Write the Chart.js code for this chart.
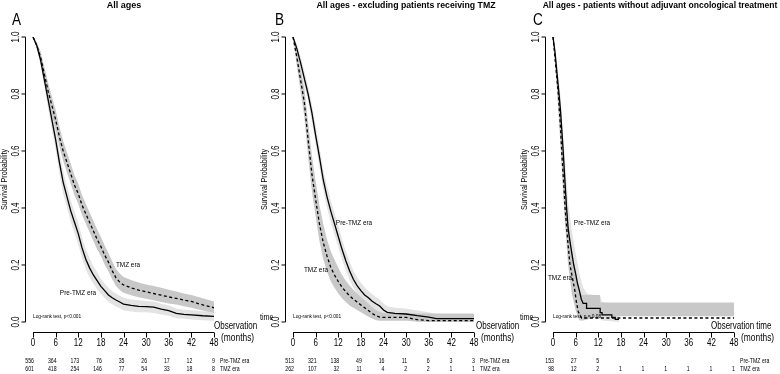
<!DOCTYPE html>
<html>
<head>
<meta charset="utf-8">
<script src="https://cdn.jsdelivr.net/npm/chart.js@4.4.1/dist/chart.umd.min.js"></script>
<style>
  body { margin: 0; background: #fff; width: 780px; height: 374px; overflow: hidden; position: relative; }
  .panel { position: absolute; top: 0; width: 260px; height: 374px; }
</style>
</head>
<body>
<div class="panel" style="left:0"><canvas id="chartA" width="260" height="374"></canvas></div>
<div class="panel" style="left:260px"><canvas id="chartB" width="260" height="374"></canvas></div>
<div class="panel" style="left:520px"><canvas id="chartC" width="260" height="374"></canvas></div>
<script>
// axis ticks
const months = [0, 6, 12, 18, 24, 30, 36, 42, 48];
const yTicks = [0, 0.2, 0.4, 0.6, 0.8, 1.0];
const yTickLabels = ['0.0', '0.2', '0.4', '0.6', '0.8', '1.0'];

// ---- A: all ages
const aTime = [0,1,2,3,4,5,6,7,8,9,10,11,12,13,14,15,16,17,18,19,20,21,22,23,24,26,28,30,32,34,36,38,40,42,45,48];
const aPreSurv  = [1.0,0.97,0.92,0.85,0.78,0.71,0.64,0.56,0.49,0.44,0.39,0.35,0.31,0.26,0.22,0.19,0.165,0.145,0.125,0.11,0.095,0.085,0.077,0.07,0.063,0.058,0.055,0.054,0.052,0.045,0.04,0.03,0.027,0.025,0.022,0.02];
const aPreUpper = [1.0,0.98,0.94,0.875,0.81,0.745,0.675,0.6,0.53,0.478,0.428,0.388,0.348,0.296,0.255,0.224,0.196,0.175,0.152,0.135,0.12,0.108,0.1,0.092,0.085,0.079,0.076,0.074,0.072,0.064,0.058,0.047,0.043,0.041,0.038,0.036];
const aPreLower = [1.0,0.96,0.9,0.825,0.75,0.675,0.605,0.52,0.45,0.402,0.352,0.312,0.272,0.224,0.185,0.156,0.134,0.115,0.098,0.085,0.07,0.062,0.054,0.048,0.041,0.037,0.034,0.034,0.032,0.026,0.022,0.013,0.011,0.009,0.006,0.004];
const aTmzSurv  = [1.0,0.97,0.93,0.87,0.81,0.76,0.71,0.65,0.60,0.56,0.52,0.48,0.45,0.41,0.38,0.35,0.32,0.29,0.265,0.235,0.21,0.18,0.155,0.14,0.13,0.12,0.112,0.106,0.10,0.094,0.088,0.083,0.077,0.072,0.06,0.05];
const aTmzUpper = [1.0,0.98,0.95,0.895,0.84,0.79,0.745,0.685,0.635,0.595,0.555,0.515,0.485,0.445,0.415,0.385,0.355,0.325,0.298,0.268,0.242,0.212,0.186,0.17,0.158,0.147,0.139,0.132,0.126,0.12,0.113,0.107,0.1,0.095,0.083,0.072];
const aTmzLower = [1.0,0.96,0.91,0.845,0.78,0.73,0.675,0.615,0.565,0.525,0.485,0.445,0.415,0.375,0.345,0.315,0.285,0.255,0.232,0.202,0.178,0.15,0.126,0.112,0.103,0.094,0.087,0.082,0.076,0.07,0.065,0.061,0.055,0.05,0.04,0.032];
const aPreRisk = [556, 364, 173, 76, 35, 26, 17, 12, 9];
const aTmzRisk = [601, 418, 254, 146, 77, 54, 33, 18, 8];

// ---- B: excluding patients receiving TMZ
const bTime = [0,1,2,3,4,5,6,7,8,9,10,11,12,13,14,15,16,17,18,19,20,21,22,23,24,25,27,30,33,36,38,42,48];
const bPreSurv  = [1.0,0.96,0.91,0.855,0.80,0.735,0.655,0.58,0.50,0.44,0.39,0.345,0.30,0.255,0.215,0.18,0.15,0.128,0.11,0.095,0.085,0.073,0.064,0.056,0.042,0.034,0.03,0.028,0.022,0.017,0.012,0.012,0.012];
const bPreUpper = [1.0,0.975,0.93,0.88,0.825,0.765,0.69,0.615,0.535,0.478,0.428,0.383,0.338,0.29,0.248,0.212,0.18,0.158,0.138,0.122,0.11,0.097,0.088,0.079,0.064,0.055,0.05,0.047,0.04,0.034,0.028,0.028,0.028];
const bPreLower = [1.0,0.945,0.89,0.83,0.775,0.705,0.62,0.545,0.465,0.402,0.352,0.307,0.262,0.22,0.182,0.148,0.12,0.098,0.082,0.068,0.06,0.049,0.04,0.033,0.022,0.016,0.013,0.012,0.008,0.005,0.003,0.003,0.003];
const bTmzSurv  = [1.0,0.93,0.85,0.77,0.64,0.52,0.43,0.345,0.28,0.232,0.192,0.165,0.142,0.122,0.106,0.092,0.08,0.07,0.06,0.05,0.04,0.03,0.022,0.017,0.016,0.016,0.016,0.016,0.008,0.005,0.005,0.005,0.005];
const bTmzUpper = [1.0,0.955,0.89,0.82,0.70,0.585,0.495,0.41,0.345,0.29,0.248,0.218,0.19,0.165,0.145,0.128,0.113,0.1,0.088,0.076,0.064,0.052,0.042,0.035,0.032,0.03,0.03,0.03,0.03,0.03,0.03,0.03,0.03];
const bTmzLower = [1.0,0.90,0.81,0.72,0.58,0.46,0.37,0.285,0.222,0.178,0.143,0.12,0.1,0.083,0.07,0.058,0.05,0.042,0.034,0.026,0.018,0.012,0.006,0.004,0.004,0.004,0.004,0.004,0.001,0,0,0,0];
const bPreRisk = [513, 321, 138, 49, 16, 11, 6, 3, 3];
const bTmzRisk = [262, 107, 32, 11, 4, 2, 2, 1, 1];

// ---- C: without adjuvant oncological treatment (repeated times = vertical steps)
const cPreTime = [0,0.5,1,1.6,2,2.7,3,3.6,4,4.3,5,5.5,6,6.5,7,7.5,8,8.9,8.9,12.5,12.5,13,13,15.6,15.6,16.5,16.5,17.5];
const cPreSurv = [1.0,0.95,0.88,0.8,0.74,0.6,0.53,0.4,0.33,0.3,0.24,0.2,0.17,0.135,0.11,0.08,0.065,0.065,0.048,0.048,0.033,0.033,0.025,0.025,0.016,0.016,0.009,0.009];
const cTmzTime = [0,0.5,1,1.4,2,2.3,3,3.2,4,4.5,5,5.8,6.2,6.7,7.6,48];
const cTmzSurv = [1.0,0.93,0.86,0.8,0.68,0.6,0.45,0.4,0.27,0.2,0.165,0.11,0.07,0.036,0.014,0.014];
const cPreBandTime = [0,1,2,3,4,5,6,7,8,9,12.5,13,17.5];
const cPreUpper = [1.0,0.92,0.79,0.6,0.42,0.32,0.24,0.17,0.12,0.1,0.09,0.07,0.05];
const cPreLower = [1.0,0.84,0.68,0.47,0.27,0.18,0.11,0.06,0.03,0.02,0.01,0.005,0.0];
const cTmzBandTime = [0,1,2,3,4,5,6,7,8,12.5,12.5,48];
const cTmzUpper = [1.0,0.9,0.74,0.52,0.35,0.25,0.17,0.1,0.095,0.095,0.068,0.068];
const cTmzLower = [1.0,0.82,0.62,0.38,0.2,0.1,0.04,0.005,0.005,0.02,0.02,0.02];
const cPreRisk = [153, 27, 5, null, null, null, null, null, null];
const cTmzRisk = [98, 12, 2, 1, 1, 1, 1, 1, 1];

const FONT = '"Liberation Sans", Arial, sans-serif';
const NARROW = 0.8; // the figure uses a condensed Helvetica

function pts(t, v) {
  return t.map((tt, i) => ({ x: tt, y: v[i] }));
}

// draw text squeezed horizontally, optionally rotated
function txt(ctx, s, x, y, sx, rot) {
  ctx.save();
  ctx.translate(x, y);
  if (rot) ctx.rotate(rot);
  ctx.scale(sx, 1);
  ctx.fillText(s, 0, 0);
  ctx.restore();
}

const kmDecor = {
  id: 'kmDecor',
  afterDraw(chart, args, o) {
    const { ctx, chartArea, scales: { x, y } } = chart;
    ctx.save();
    ctx.fillStyle = '#000';
    ctx.strokeStyle = '#000';
    ctx.lineWidth = 1;

    // title + panel letter
    ctx.font = 'bold 9px ' + FONT;
    ctx.textAlign = 'center';
    ctx.textBaseline = 'middle';
    txt(ctx, o.title, o.titleX, 6, o.titleScale);
    ctx.font = '16px ' + FONT;
    ctx.textAlign = 'left';
    ctx.textBaseline = 'alphabetic';
    txt(ctx, o.letter, o.letterX, 25, 0.85);

    // y axis (R style, detached from the plot)
    const yl = Math.round(chartArea.left) - 0.5;
    ctx.beginPath();
    ctx.moveTo(yl, y.getPixelForValue(0));
    ctx.lineTo(yl, y.getPixelForValue(1));
    yTicks.forEach(v => {
      const py = y.getPixelForValue(v);
      ctx.moveTo(yl - 4, py);
      ctx.lineTo(yl, py);
    });
    ctx.stroke();
    ctx.font = '10px ' + FONT;
    ctx.textAlign = 'center';
    ctx.textBaseline = 'middle';
    yTicks.forEach((v, i) => txt(ctx, yTickLabels[i], yl - 9, y.getPixelForValue(v), NARROW, -Math.PI / 2));
    ctx.font = '9px ' + FONT;
    txt(ctx, 'Survival Probability', 5, (y.getPixelForValue(0) + y.getPixelForValue(1)) / 2, NARROW, -Math.PI / 2);

    // x axis
    const xb = Math.round(chartArea.bottom) - 0.5;
    ctx.beginPath();
    ctx.moveTo(x.getPixelForValue(months[0]), xb);
    ctx.lineTo(x.getPixelForValue(months[months.length - 1]), xb);
    months.forEach(m => {
      const px = Math.round(x.getPixelForValue(m)) + 0.5;
      ctx.moveTo(px, xb);
      ctx.lineTo(px, xb + 5);
    });
    ctx.stroke();
    ctx.font = '10px ' + FONT;
    months.forEach(m => txt(ctx, String(m), x.getPixelForValue(m), xb + 11, NARROW));

    // axis title
    ctx.textAlign = 'left';
    ctx.font = '10px ' + FONT;
    txt(ctx, o.xTitle, o.xTitleX, 326, NARROW);
    ctx.font = '10.5px ' + FONT;
    txt(ctx, '(months)', 221, 338, NARROW);
    if (o.spill) {
      ctx.font = '9px ' + FONT;
      txt(ctx, 'time', 0, 318, NARROW);
    }

    // curve labels + test
    ctx.textAlign = 'center';
    ctx.font = '8px ' + FONT;
    o.labels.forEach(l => txt(ctx, l.text, l.x, l.y, NARROW));
    ctx.textAlign = 'left';
    ctx.font = '6px ' + FONT;
    txt(ctx, o.test, x.getPixelForValue(0), 316, NARROW);

    // numbers at risk
    ctx.font = '6.5px ' + FONT;
    ctx.textAlign = 'right';
    months.forEach((m, i) => {
      const px = x.getPixelForValue(m) + 1;
      if (o.preRisk[i] != null) txt(ctx, String(o.preRisk[i]), px, 361, NARROW);
      if (o.tmzRisk[i] != null) txt(ctx, String(o.tmzRisk[i]), px, 369, NARROW);
    });
    ctx.textAlign = 'left';
    txt(ctx, 'Pre-TMZ era', 220, 361, NARROW);
    txt(ctx, 'TMZ era', 220, 369, NARROW);
    ctx.restore();
  }
};

function panel(id, d, decor) {
  return new Chart(document.getElementById(id), {
    type: 'line',
    data: {
      datasets: [
        { label: 'Pre-TMZ era', data: pts(d.preT, d.preS), borderColor: '#000', borderWidth: 1.3 },
        { label: 'TMZ era', data: pts(d.tmzT, d.tmzS), borderColor: '#000', borderWidth: 1.3, borderDash: [3, 2.5] },
        { label: 'TMZ upper', data: pts(d.tmzBT, d.tmzU), borderColor: 'transparent' },
        { label: 'TMZ lower', data: pts(d.tmzBT, d.tmzL), borderColor: 'transparent', fill: '-1', backgroundColor: '#c8c8c8' },
        { label: 'Pre upper', data: pts(d.preBT, d.preU), borderColor: 'transparent' },
        { label: 'Pre lower', data: pts(d.preBT, d.preL), borderColor: 'transparent', fill: '-1', backgroundColor: '#e3e3e3' }
      ]
    },
    options: {
      responsive: false,
      animation: false,
      events: [],
      layout: { padding: { left: 26, right: 46, top: 37, bottom: 41 } },
      elements: { point: { radius: 0 }, line: { tension: 0, fill: false } },
      scales: {
        x: { type: 'linear', min: -1.86, max: 48, display: false },
        y: { type: 'linear', min: -0.0386, max: 1, display: false }
      },
      plugins: { legend: { display: false }, tooltip: { enabled: false }, kmDecor: decor }
    },
    plugins: [kmDecor]
  });
}

panel('chartA',
  { preT: aTime, preS: aPreSurv, tmzT: aTime, tmzS: aTmzSurv,
    preBT: aTime, preU: aPreUpper, preL: aPreLower, tmzBT: aTime, tmzU: aTmzUpper, tmzL: aTmzLower },
  { title: 'All ages', titleX: 124, titleScale: 1, letter: 'A', letterX: 12, xTitle: 'Observation', xTitleX: 214, spill: false,
    labels: [{ text: 'TMZ era', x: 128, y: 265 }, { text: 'Pre-TMZ era', x: 78, y: 293 }],
    test: 'Log-rank test, p<0.001', preRisk: aPreRisk, tmzRisk: aTmzRisk });

panel('chartB',
  { preT: bTime, preS: bPreSurv, tmzT: bTime, tmzS: bTmzSurv,
    preBT: bTime, preU: bPreUpper, preL: bPreLower, tmzBT: bTime, tmzU: bTmzUpper, tmzL: bTmzLower },
  { title: 'All ages - excluding patients receiving TMZ', titleX: 146, titleScale: 0.97, letter: 'B', letterX: 15, xTitle: 'Observation', xTitleX: 216, spill: true,
    labels: [{ text: 'Pre-TMZ era', x: 94, y: 223 }, { text: 'TMZ era', x: 56, y: 270 }],
    test: 'Log-rank test, p<0.001', preRisk: bPreRisk, tmzRisk: bTmzRisk });

panel('chartC',
  { preT: cPreTime, preS: cPreSurv, tmzT: cTmzTime, tmzS: cTmzSurv,
    preBT: cPreBandTime, preU: cPreUpper, preL: cPreLower, tmzBT: cTmzBandTime, tmzU: cTmzUpper, tmzL: cTmzLower },
  { title: 'All ages - patients without adjuvant oncological treatment', titleX: 140, titleScale: 0.95, letter: 'C', letterX: 13, xTitle: 'Observation time', xTitleX: 191, spill: true,
    labels: [{ text: 'Pre-TMZ era', x: 72, y: 223 }, { text: 'TMZ era', x: 40, y: 278 }],
    test: 'Log-rank test, p = 0.08', preRisk: cPreRisk, tmzRisk: cTmzRisk });
</script>
</body>
</html>
